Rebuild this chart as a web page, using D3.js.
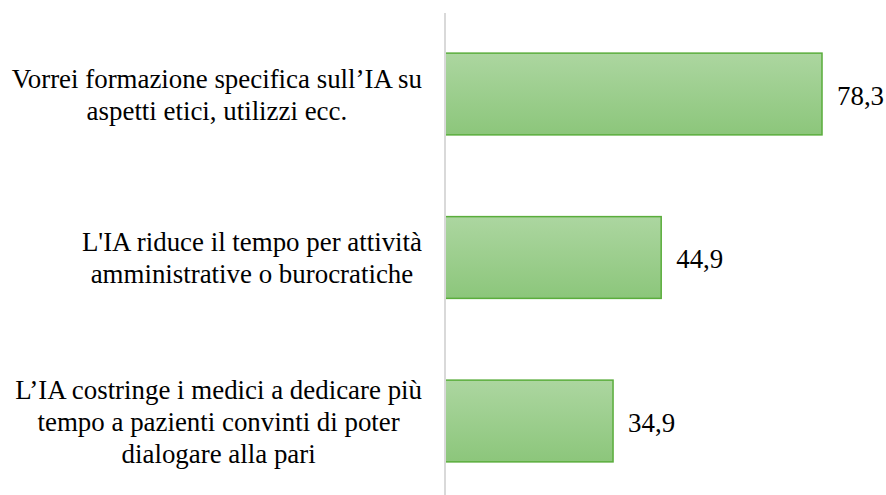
<!DOCTYPE html>
<html>
<head>
<meta charset="utf-8">
<script src="https://cdn.jsdelivr.net/npm/d3@7"></script>
<style>
  body { margin: 0; background: #fff; }
</style>
</head>
<body>
<div id="chart"></div>
<script>
// Chart data
const categories = [
    ["Vorrei formazione specifica sull\u2019IA su", "aspetti etici, utilizzi ecc."],
    ["L'IA riduce il tempo per attività", "amministrative o burocratiche"],
    ["L\u2019IA costringe i medici a dedicare più", "tempo a pazienti convinti di poter", "dialogare alla pari"]
];
const values = [78.3, 44.9, 34.9];

const svgWidth = 886;
const svgHeight = 495;
const fontFam = "'Liberation Serif', 'Times New Roman', Tinos, serif";
const fontSize = 26.9;

const svg = d3.select('#chart')
    .append('svg')
    .attr('width', svgWidth)
    .attr('height', svgHeight);

// gradient fill for bars
const grad = svg.append('defs').append('linearGradient')
    .attr('id', 'barGrad')
    .attr('x1', 0).attr('y1', 0).attr('x2', 0).attr('y2', 1);
grad.append('stop').attr('offset', '0%').attr('stop-color', '#acd6a0');
grad.append('stop').attr('offset', '100%').attr('stop-color', '#8cc67b');

const xScale = d3.scaleLinear()
    .domain([0, 100])
    .range([445, 926.5]);

const yScale = d3.scaleBand()
    .domain(d3.range(values.length))
    .range([12.25, 502.75])
    .paddingInner(0.5)
    .paddingOuter(0.25);

const itFormat = d3.formatLocale({decimal: ",", thousands: ".", grouping: [3], currency: ["€", ""]}).format(".1f");

// bars
svg.selectAll('rect.bar')
    .data(values)
    .enter()
    .append('rect')
    .attr('class', 'bar')
    .attr('x', xScale(0))
    .attr('y', (d, i) => yScale(i))
    .attr('width', d => xScale(d) - xScale(0))
    .attr('height', yScale.bandwidth())
    .attr('fill', 'url(#barGrad)')
    .attr('stroke', '#5aad3c')
    .attr('stroke-width', 1.5);

// vertical axis line
svg.append('line')
    .attr('x1', xScale(0)).attr('x2', xScale(0))
    .attr('y1', 13).attr('y2', svgHeight)
    .attr('stroke', '#d9d9d9')
    .attr('stroke-width', 2);

// value labels
svg.selectAll('text.val')
    .data(values)
    .enter()
    .append('text')
    .attr('class', 'val')
    .attr('x', d => xScale(d) + 15)
    .attr('y', (d, i) => yScale(i) + yScale.bandwidth() / 2)
    .attr('dy', '0.4em')
    .attr('font-family', fontFam)
    .attr('font-size', fontSize)
    .attr('fill', '#000')
    .text(d => itFormat(d));

// category labels, lines centred within a right-aligned block
const lineH = 32;
const labelRight = 422;
categories.forEach((lines, i) => {
    const g = svg.append('g');
    const cy = yScale(i) + yScale.bandwidth() / 2;
    const t = g.selectAll('text')
        .data(lines)
        .enter()
        .append('text')
        .attr('text-anchor', 'middle')
        .attr('y', (d, j) => cy + (j - (lines.length - 1) / 2) * lineH)
        .attr('dy', '0.36em')
        .attr('font-family', fontFam)
        .attr('font-size', fontSize)
        .attr('fill', '#000')
        .text(d => d);
    const maxW = d3.max(t.nodes(), n => n.getComputedTextLength());
    t.attr('x', labelRight - maxW / 2);
});
</script>
</body>
</html>
